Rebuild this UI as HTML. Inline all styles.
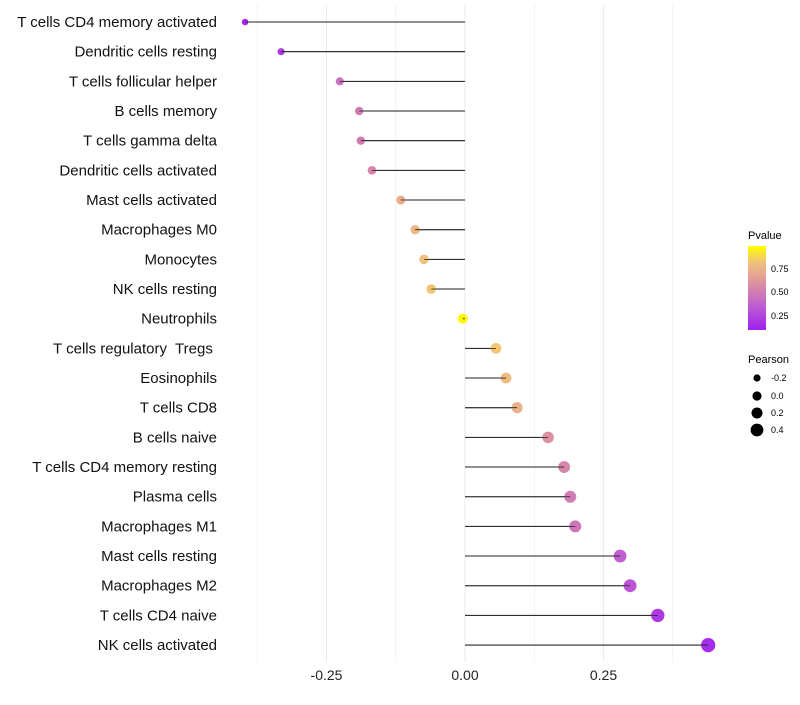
<!DOCTYPE html>
<html><head><meta charset="utf-8"><style>
body{margin:0;background:#fff;font-family:"Liberation Sans",sans-serif}
svg text{font-family:"Liberation Sans",sans-serif;white-space:pre}
</style></head><body>
<svg id="chart" width="800" height="700" xmlns="http://www.w3.org/2000/svg">
<defs><linearGradient id="pg" x1="0" y1="1" x2="0" y2="0">
<stop offset="0" stop-color="#a020f0"/><stop offset="0.3" stop-color="#c060d0"/><stop offset="0.55" stop-color="#dc90a0"/><stop offset="0.8" stop-color="#f0c080"/><stop offset="1" stop-color="#ffff00"/></linearGradient></defs>
<g id="grid"></g>
<g id="marks"></g>
<g id="ylabels"></g>
<g id="xlabels"></g>
<g>
<text x="748" y="239" font-size="11">Pvalue</text>
<rect x="748" y="246" width="18" height="84" fill="url(#pg)"/>
<text x="771" y="272" font-size="9">0.75</text>
<text x="771" y="295" font-size="9">0.50</text>
<text x="771" y="319" font-size="9">0.25</text>
</g>
<g>
<text x="748" y="363" font-size="11">Pearson</text>
<circle cx="757" cy="378" r="3.6"/><text x="771" y="381" font-size="9">-0.2</text>
<circle cx="757" cy="396" r="4.6"/><text x="771" y="399" font-size="9">0.0</text>
<circle cx="757" cy="413" r="5.5"/><text x="771" y="416" font-size="9">0.2</text>
<circle cx="757" cy="430" r="6.4"/><text x="771" y="433" font-size="9">0.4</text>
</g>
</svg>
<script>
const cells=["T cells CD4 memory activated","Dendritic cells resting","T cells follicular helper","B cells memory","T cells gamma delta","Dendritic cells activated","Mast cells activated","Macrophages M0","Monocytes","NK cells resting","Neutrophils","T cells regulatory  Tregs ","Eosinophils","T cells CD8","B cells naive","T cells CD4 memory resting","Plasma cells","Macrophages M1","Mast cells resting","Macrophages M2","T cells CD4 naive","NK cells activated"];
const pearson=[-0.397,-0.332,-0.226,-0.191,-0.188,-0.168,-0.116,-0.090,-0.074,-0.061,-0.004,0.056,0.074,0.094,0.150,0.179,0.190,0.199,0.280,0.298,0.348,0.439];
const pvalue=[0.05,0.12,0.40,0.45,0.45,0.50,0.70,0.75,0.80,0.82,0.98,0.82,0.78,0.72,0.55,0.50,0.45,0.42,0.30,0.25,0.12,0.05];
const xticks=[-0.25,0,0.25];
const xgrid=[-0.375,-0.25,-0.125,0,0.125,0.25,0.375];
const NS="http://www.w3.org/2000/svg";
const x=v=>465+v*554;
const y=i=>22+i*29.67;
const r=v=>5.1+4.6*v;
const stops=[[0,[160,32,240]],[0.3,[192,96,208]],[0.55,[220,144,160]],[0.8,[240,192,128]],[1,[255,255,0]]];
function col(p){for(let k=1;k<stops.length;k++){if(p<=stops[k][0]){const a=stops[k-1],b=stops[k],t=(p-a[0])/(b[0]-a[0]);return "rgb("+a[1].map((c,j)=>Math.round(c+(b[1][j]-c)*t)).join(",")+")";}}return "rgb(255,255,0)";}
function mk(t,a,parent){const e=document.createElementNS(NS,t);for(const k in a)e.setAttribute(k,a[k]);parent.appendChild(e);return e;}
const G=document.getElementById("grid"),M=document.getElementById("marks"),YL=document.getElementById("ylabels"),XL=document.getElementById("xlabels");
xgrid.forEach(v=>{const l=mk("line",{x1:x(v),x2:x(v),y1:5,y2:662,stroke:"#ebebeb","stroke-width":xticks.includes(v)?1:0.6},G);

});
xticks.forEach(v=>{const t=mk("text",{x:x(v),y:680,"font-size":14,"text-anchor":"middle",fill:"#222"},XL);t.textContent=v.toFixed(2);

});
cells.forEach((c,i)=>{
const t=mk("text",{x:217,y:y(i)+5,"font-size":15,"text-anchor":"end",fill:"#111"},YL);t.textContent=c;


const l=mk("line",{x1:x(0),x2:x(pearson[i]),y1:y(i),y2:y(i),stroke:"#222","stroke-width":1},M);


const d=mk("circle",{cx:x(pearson[i]),cy:y(i),r:Math.max(2,r(pearson[i])),fill:col(pvalue[i])},M);


const l2=mk("line",{x1:x(0),x2:x(pearson[i]),y1:y(i),y2:y(i),stroke:"#222","stroke-width":0.8},M);


});
</script>
</body></html>
